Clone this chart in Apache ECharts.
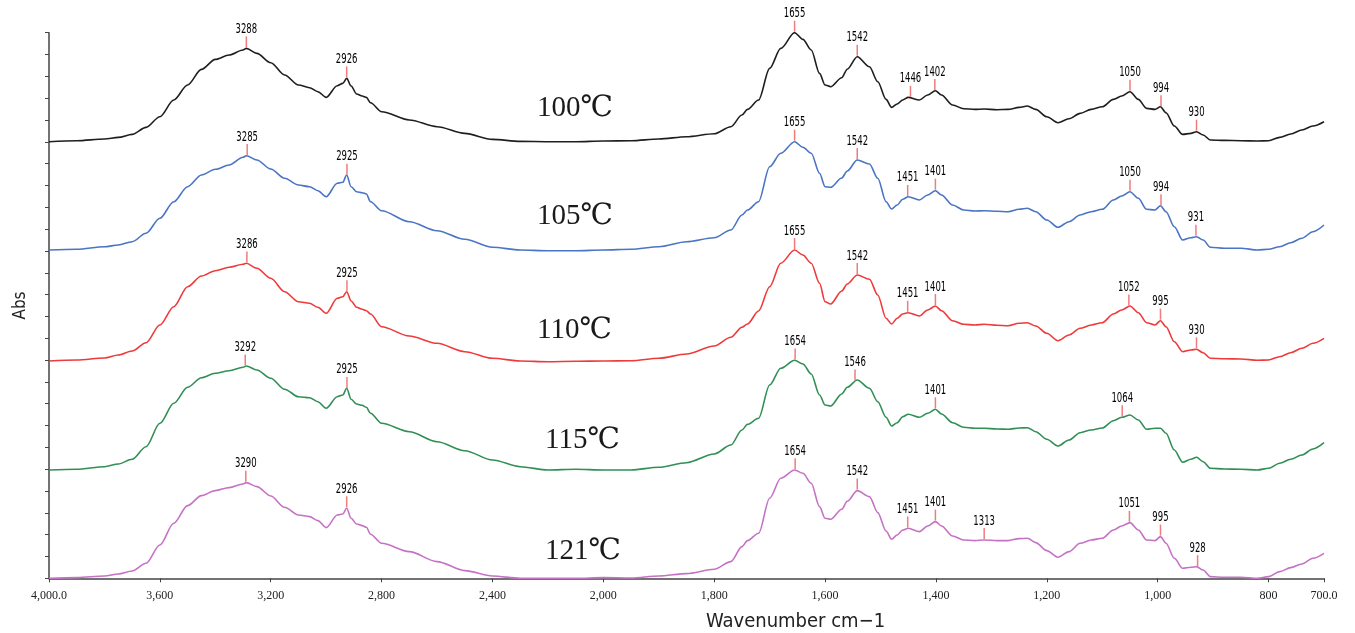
<!DOCTYPE html>
<html><head><meta charset="utf-8">
<script src="https://cdn.jsdelivr.net/npm/echarts@6/dist/echarts.min.js"></script>
<style>html,body{margin:0;padding:0;background:#fff}#c{width:1355px;height:633px}</style>
</head><body><div id="c"></div>
<script>
// wavenumbers (cm-1) at which the spectra are sampled
const wavenumbers = [4000,3900,3800,3750,3700,3650,3600,3550,3500,3450,3400,3350,3300,3288,3250,3200,3150,3100,3060,3030,3000,2960,2940,2926,2910,2890,2870,2855,2840,2800,2700,2600,2500,2400,2300,2200,2100,2000,
1950,1900,1850,1800,1770,1750,1740,1720,1700,1680,1655,1640,1625,1610,1600,1590,1570,1560,1542,1520,1505,1490,1480,1470,1460,1450,1430,1415,1401,1390,1370,1350,1330,1313,1290,1270,1250,1235,1220,1200,1180,1160,1140,1120,1100,1080,1065,1050,1035,1020,1005,995,985,970,955,940,930,918,905,880,850,820,800,780,760,740,720,700];

// absorbance (arbitrary units) above each spectrum's own baseline
const abs100 = [0,1,2.7,4.3,7.3,14.3,25,41.7,56.7,72.3,82.3,86.7,91.7,93.3,88.3,79,66.7,56.7,54,50,44.3,56,58.3,63.3,55.7,47.7,45.7,44.3,39,30,21.7,15,8.3,2.3,0.3,0,0,0.7,
1,2.7,5,8,15,26.7,32.3,41.7,73.3,93.3,109,102.3,91.7,68.3,56.7,55,64,72.5,85,75,60,42.3,34.3,37.7,41.7,44.3,41.7,46.7,51,46.7,36.7,33,32.3,32.7,32,32.3,34.3,35.7,32.3,25,19,23,28.3,32.3,35,42.3,45.7,50,42.3,33.3,32.3,35,29,15.7,7.3,8.3,10,6.7,1.7,1.3,1,0.7,1,4.3,7.7,11.7,15.7,20];
const abs105 = [0,0.7,3.3,5,8.3,16.7,31.7,48.3,63.3,75,80.7,85,92.7,94.3,90,81,71.7,65,63.3,59.3,53.3,66.7,67.7,75,63.3,58.3,57.3,56,48.3,39.3,28.3,19.3,10.7,2.7,0,-0.7,-0.7,0,
0.7,3.3,8.3,12.3,20,35,40,48.3,83.3,96.7,108.3,102.7,96.7,76.7,63.3,62.7,72,79,90,86,71.7,48.3,41,45,50.7,53.3,50,55,59.3,55,45,40,39,39.3,38.7,38.3,40.7,41.7,38.3,30,22.7,28.3,35,38.3,40.7,50,54,58.3,51.7,40.7,40,44.3,38.3,23.3,10,12.3,13.3,10,2.7,1.7,1.7,0,0.7,3.3,7.3,11.7,18.3,25];
const abs110 = [0,1,3,6,10,18.3,36,54.3,74.3,85,90.3,93.7,96.7,97.7,92.7,82.7,69.3,59.3,57.7,53.7,47.7,62.7,64.3,69.3,60,53.7,51.7,50.3,47,34.3,25,17.7,9.3,2.7,0,-0.7,-0.3,0,
0.3,2.7,7,15,23.7,33.7,37,50,74.3,97.7,111,106,97.7,77.7,59.3,57,70,77,86,81.7,66,42.7,37,42.7,47,48.3,45,51,55,50.3,40.3,36.7,36,36.7,35.7,35.3,37.7,38.3,35,27.7,20.3,26,32.7,36,38.3,47,51,55,48.3,38.3,36,40.3,34.3,19.3,9.3,11,11.7,8.3,2.7,2.3,2,0.7,1,4.3,8.3,12.7,17.7,22.7];
const abs115 = [0,0.7,3.3,6,10.7,23.3,46.7,66.7,82.7,92.3,96.7,99.3,102.7,104,100,91.7,80.7,73.3,72.3,68.3,61.7,73.3,75,81.7,70.7,66,64.7,62.7,56.7,46.7,38.3,28.3,19.3,10,3.3,0,0.7,0,
0,2.7,7.3,16,25,40,45.7,51.7,85,101.7,109.7,106,96,75,65,64,76,82.7,90,81.7,68.3,52.7,44,47.3,53.3,55.7,52.7,56.7,60.7,56,47.3,42.7,41.7,41.7,41,40.7,42,42.3,38.3,30.7,24,30,37.3,40,42,49.3,52.7,55,50,40.7,41.7,41.7,36.7,20,7.7,10.7,12.7,8.3,1.7,1,0.7,0,1.7,6.7,10.7,15,21,27.3];
const abs121 = [0,0.7,2.3,4.3,7.3,15,33.3,55,72.7,82.7,87.7,90.7,94.3,95.7,91.7,82.3,71,63.3,61.7,57.7,50.7,63.3,64.3,70,60,54.3,52.7,51,44,35,26.7,16.7,7.7,2.3,0,0,0,0.7,
0.3,2.3,4.7,9,16.7,31.7,37.7,45,80,100,108.3,105,95,71.7,60,59,69,77,87.7,81.7,65.7,47.3,39,43.3,48.3,50,46.7,52.3,56.7,52.3,42.3,38.3,37.7,38.3,37.7,37.7,39.7,40,35.7,27.7,21,26.7,35,38.3,40,48.3,52.3,55.7,48.3,38.3,37.7,41.7,35,20,10,11,11.7,8.3,1.7,1,1,0,1.7,6.7,10.7,14.3,20,25];

// vertical stacking offsets of the spectra
const offsets = [436.6, 328.3, 217.3, 108.3, 0];
const tempLabels = ['100℃', '105℃', '110℃', '115℃', '121℃'];

// labelled peaks (cm-1)
const peaks100 = [3288, 2926, 1655, 1542, 1446, 1402, 1050, 994, 930];
const peaks105 = [3285, 2925, 1655, 1542, 1451, 1401, 1050, 994, 931];
const peaks110 = [3286, 2925, 1655, 1542, 1451, 1401, 1052, 995, 930];
const peaks115 = [3292, 2925, 1654, 1546, 1401, 1064];
const peaks121 = [3290, 2926, 1654, 1542, 1451, 1401, 1313, 1051, 995, 928];

// x axis end wavenumbers (labelled with one decimal)
const xEnds = [4000, 700];

const spectra = [abs100, abs105, abs110, abs115, abs121];
const peaks = [peaks100, peaks105, peaks110, peaks115, peaks121];
spectra.forEach((s, k) => { if (s.length !== wavenumbers.length) throw new Error('length mismatch ' + k + ': ' + s.length); });

// OMNIC-style split scale: 4000-2000 compressed x2
const toAxis = w => w >= 2000 ? (4000 - w) / 2 : 1000 + (2000 - w);
const fromAxis = u => u <= 1000 ? 4000 - 2 * u : 2000 - (u - 1000);
const commas = s => s.replace(/\B(?=(\d{3})+(?!\d))/g, ',');

function valueAt(arr, w) {
  for (let i = 0; i < wavenumbers.length - 1; i++) {
    const a = wavenumbers[i], b = wavenumbers[i + 1];
    if (w <= a && w >= b) {
      const ua = toAxis(a), ub = toAxis(b), u = toAxis(w);
      const t = (u - ua) / (ub - ua);
      return arr[i] + t * (arr[i + 1] - arr[i]);
    }
  }
  return 0;
}

const colors = ['#1e1e1e', '#4a74c4', '#ee3a3a', '#2f8f55', '#c572c5'];
const yInterval = 21.824;

const series = [];
spectra.forEach((s, k) => {
  series.push({
    type: 'line', name: tempLabels[k],
    data: wavenumbers.map((w, i) => [toAxis(w), offsets[k] + s[i]]),
    showSymbol: false, smooth: 0.3, smoothMonotone: 'x',
    lineStyle: { width: 1.6, color: colors[k] }, z: 3
  });
  series.push({
    type: 'custom', z: 4,
    data: peaks[k].map(w => [toAxis(w), offsets[k] + valueAt(s, w), w]),
    encode: { x: 0, y: 1 },
    renderItem: (params, api) => {
      const p = api.coord([api.value(0), api.value(1)]);
      return {
        type: 'group', children: [
          { type: 'line', shape: { x1: p[0], y1: p[1] - 1, x2: p[0], y2: p[1] - 12 }, style: { stroke: '#f07c7c', lineWidth: 1.5 } },
          { type: 'text', x: p[0], y: p[1] - 12, scaleX: 0.7,
            style: { text: String(api.value(2)), fontSize: 13.5, fontFamily: '"DejaVu Sans Condensed", "DejaVu Sans"', fill: '#000', align: 'center', verticalAlign: 'bottom' } }
        ]
      };
    }
  });
});

const tempPos = [[537, 108], [537, 216], [537, 330], [545, 440], [545, 551]];

const chart = echarts.init(document.getElementById('c'), null, { renderer: 'canvas' });
chart.setOption({
  animation: false,
  backgroundColor: '#fff',
  grid: { left: 49, right: 31, top: 32.7, bottom: 54.7, containLabel: false },
  xAxis: {
    type: 'value', min: 0, max: toAxis(700), interval: 200,
    axisLine: { show: true, lineStyle: { color: '#444', width: 1.5 } },
    axisTick: { show: true, length: 4, lineStyle: { color: '#444' } },
    splitLine: { show: false },
    axisLabel: {
      margin: 12, fontSize: 12, fontFamily: '"Liberation Serif", "Times New Roman", serif', color: '#222',
      formatter: v => {
        const w = Math.round(fromAxis(v));
        if (xEnds.indexOf(w) >= 0) return commas(w.toFixed(1));
        return commas(String(w));
      }
    }
  },
  yAxis: {
    type: 'value', min: 0, max: yInterval * 25, interval: yInterval,
    name: 'Abs', nameLocation: 'middle', nameGap: 20,
    nameTextStyle: { fontSize: 17, fontFamily: '"DejaVu Sans Condensed", "DejaVu Sans"', color: '#222' },
    axisLine: { show: true, lineStyle: { color: '#444', width: 1.5 } },
    axisTick: { show: true, length: 4, lineStyle: { color: '#444' } },
    axisLabel: { show: false },
    splitLine: { show: false }
  },
  graphic: tempLabels.map((t, k) => ({
    type: 'text', x: tempPos[k][0], y: tempPos[k][1], silent: true,
    style: { text: t, font: '29px "Liberation Serif", "DejaVu Serif", "Noto Sans CJK SC", serif', fill: '#1a1a1a', textAlign: 'left', textVerticalAlign: 'middle' }
  })).concat([{
    type: 'text', x: 706, y: 622, silent: true,
    style: { text: 'Wavenumber cm−1', font: '20px "DejaVu Sans Condensed", "DejaVu Sans"', fill: '#222', textAlign: 'left', textVerticalAlign: 'middle' }
  }]),
  series: series
});
</script>
</body></html>
